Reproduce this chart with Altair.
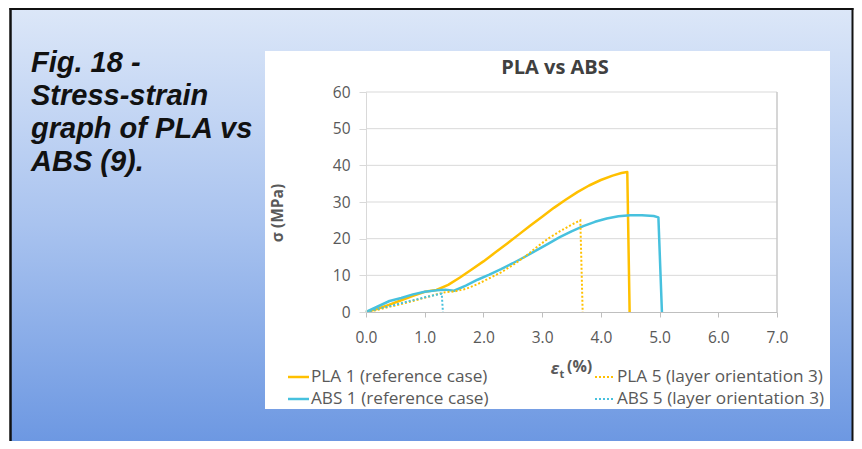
import altair as alt
import pandas as pd

# ---------------- data ----------------
series_names = ["PLA 1 (reference case)", "ABS 1 (reference case)",
                "PLA 5 (layer orientation 3)", "ABS 5 (layer orientation 3)"]
series_colors = ["#FFC000", "#47C1DE", "#FFC000", "#47C1DE"]

pla1_strain = [0, 0.2, 0.4, 0.6, 0.8, 1.0, 1.2, 1.4, 1.6, 1.8, 2.0, 2.2, 2.4, 2.6, 2.8,
               3.0, 3.2, 3.4, 3.6, 3.8, 4.0, 4.2, 4.35, 4.45, 4.49]
pla1_stress = [0, 0.9, 2.0, 3.2, 4.4, 5.5, 6.0, 7.4, 9.4, 11.6, 13.8, 16.2, 18.6, 21.1, 23.6,
               26.0, 28.4, 30.6, 32.7, 34.5, 36.0, 37.2, 37.9, 38.2, 0]

abs1_strain = [0, 0.2, 0.4, 0.6, 0.8, 1.0, 1.2, 1.35, 1.5, 1.7, 1.9, 2.1, 2.3, 2.5, 2.7,
               2.9, 3.1, 3.3, 3.5, 3.7, 3.9, 4.1, 4.3, 4.5, 4.7, 4.9, 4.98, 5.04]
abs1_stress = [0, 1.5, 3.0, 3.8, 4.8, 5.5, 5.9, 6.1, 5.8, 7.2, 8.8, 10.2, 11.7, 13.3, 15.0,
               16.8, 18.6, 20.4, 22.0, 23.4, 24.6, 25.5, 26.1, 26.4, 26.4, 26.2, 25.8, 0]

pla5_strain = [0, 0.2, 0.4, 0.6, 0.8, 1.0, 1.2, 1.35, 1.5, 1.7, 1.9, 2.1, 2.3, 2.5, 2.7,
               2.9, 3.1, 3.3, 3.5, 3.65, 3.69]
pla5_stress = [0, 0.6, 1.4, 2.2, 3.0, 3.9, 4.8, 5.4, 5.6, 6.3, 7.6, 9.2, 10.8, 12.8, 15.0,
               17.6, 20.0, 22.0, 23.8, 25.0, 0]

abs5_strain = [0, 0.2, 0.4, 0.6, 0.8, 1.0, 1.2, 1.29, 1.31]
abs5_stress = [0, 0.8, 1.6, 2.4, 3.2, 4.0, 4.7, 5.0, 0]

x_ticks = [0, 1, 2, 3, 4, 5, 6, 7]
y_ticks = [0, 10, 20, 30, 40, 50, 60]
grid_values = [10, 20, 30, 40, 50, 60]

chart_title = "PLA vs ABS"
y_title = "σ (MPa)"
caption_lines = ["Fig. 18 -", "Stress-strain", "graph of PLA vs", "ABS (9)."]

# ---------------- table ----------------
rows = []
for name, xs_, ys_ in zip(series_names,
                          [pla1_strain, abs1_strain, pla5_strain, abs5_strain],
                          [pla1_stress, abs1_stress, pla5_stress, abs5_stress]):
    for i, (a, b) in enumerate(zip(xs_, ys_)):
        rows.append({"series": name, "strain": a, "stress": b, "i": i})
df = pd.DataFrame(rows)
solid_df = df[df["series"].isin(series_names[:2])]
dotted_df = df[df["series"].isin(series_names[2:])]

W, H = 411, 220
LABEL_FONT = "Open Sans"
GREY = "#595959"

xscale = alt.Scale(domain=[0, 7], nice=False, zero=False)
yscale = alt.Scale(domain=[0, 60], nice=False)
xaxis = alt.Axis(values=x_ticks, format=".1f", title=None, grid=False,
                 domainColor="#BFBFBF", tickColor="#BFBFBF", tickSize=5,
                 labelFont=LABEL_FONT, labelFontSize=15.5, labelColor=GREY,
                 labelPadding=13, labelFlush=False, labelOverlap=False, zindex=1)
yaxis = alt.Axis(values=y_ticks, title=None, grid=False,
                 domainColor="#D9D9D9", tickColor="#D9D9D9", tickSize=7,
                 labelFont=LABEL_FONT, labelFontSize=15.5, labelColor=GREY,
                 labelPadding=9, labelFlush=False, labelOverlap=False, zindex=1)
X = alt.X("strain:Q", scale=xscale, axis=xaxis)
Y = alt.Y("stress:Q", scale=yscale, axis=yaxis)
COLOR = alt.Color("series:N", scale=alt.Scale(domain=series_names, range=series_colors), legend=None)

one = pd.DataFrame({"k": [0]})


def px(page_x):
    return page_x - 366


def py(page_y):
    return page_y - 92


layers = []

# background with gradient
grad = alt.LinearGradient(gradient="linear",
                          stops=[alt.GradientStop(offset=0, color="#DCE7F8"),
                                 alt.GradientStop(offset=0.5, color="#A9C3EF"),
                                 alt.GradientStop(offset=1, color="#6D98E2")],
                          x1=0, x2=0, y1=0, y2=1)
layers.append(alt.Chart(one).mark_rect(fill=grad).encode(
    x=alt.value(px(10)), x2=alt.value(px(853)), y=alt.value(py(8)), y2=alt.value(py(441))))

# frame borders (left, top, right)
layers.append(alt.Chart(one).mark_rule(color="#111111", strokeWidth=2.5).encode(
    x=alt.value(px(10.5)), y=alt.value(py(8)), y2=alt.value(py(441))))
layers.append(alt.Chart(one).mark_rule(color="#111111", strokeWidth=2).encode(
    x=alt.value(px(9.5)), x2=alt.value(px(853.5)), y=alt.value(py(9))))
layers.append(alt.Chart(one).mark_rule(color="#111111", strokeWidth=2).encode(
    x=alt.value(px(852.5)), y=alt.value(py(8)), y2=alt.value(py(441))))

# white chart box
layers.append(alt.Chart(one).mark_rect(fill="white").encode(
    x=alt.value(px(265)), x2=alt.value(px(830)), y=alt.value(py(51)), y2=alt.value(py(409))))

# gridlines
layers.append(alt.Chart(pd.DataFrame({"stress": grid_values})).mark_rule(
    color="#D9D9D9", strokeWidth=1).encode(y=Y))

# right plot border
layers.append(alt.Chart(one).mark_rule(color="#C8C8C8", strokeWidth=1.5).encode(
    x=alt.value(W), y=alt.value(0), y2=alt.value(H)))

# data lines
layers.append(alt.Chart(solid_df).mark_line(strokeWidth=2.5, strokeJoin="round").encode(
    x=X, y=Y, color=COLOR, detail="series:N", order="i:Q"))
layers.append(alt.Chart(dotted_df).mark_line(strokeWidth=2, strokeDash=[2, 2]).encode(
    x=X, y=Y, color=COLOR, detail="series:N", order="i:Q"))

# title
layers.append(alt.Chart(one).mark_text(text=chart_title, font=LABEL_FONT, fontSize=20,
                                       fontWeight="bold", color="#404040",
                                       align="center", baseline="middle").encode(
    x=alt.value(px(555)), y=alt.value(py(68))))

# y title
layers.append(alt.Chart(one).mark_text(text=y_title, font=LABEL_FONT, fontSize=15.5,
                                       fontWeight="bold", color=GREY, angle=270,
                                       align="center", baseline="middle").encode(
    x=alt.value(px(278)), y=alt.value(py(213))))

# x title: epsilon with subscript t
layers.append(alt.Chart(one).mark_text(text="ε", font=LABEL_FONT, fontSize=16.5,
                                       fontStyle="italic", fontWeight="bold", color=GREY,
                                       align="center", baseline="middle").encode(
    x=alt.value(px(555)), y=alt.value(py(369))))
layers.append(alt.Chart(one).mark_text(text="t", font=LABEL_FONT, fontSize=11,
                                       fontWeight="bold", color=GREY,
                                       align="center", baseline="middle").encode(
    x=alt.value(px(562)), y=alt.value(py(375))))
layers.append(alt.Chart(one).mark_text(text="(%)", font=LABEL_FONT, fontSize=16,
                                       fontWeight="bold", color=GREY,
                                       align="left", baseline="middle").encode(
    x=alt.value(px(567)), y=alt.value(py(367))))

# legend
leg_pos = [(288, 309, 311, 377), (288, 309, 311, 399), (595, 615, 617, 377), (595, 615, 617, 399)]
for k, (name, col) in enumerate(zip(series_names, series_colors)):
    x0, x1, tx, ty = leg_pos[k]
    if k < 2:
        mk = alt.Chart(one).mark_rule(color=col, strokeWidth=2.5)
    else:
        mk = alt.Chart(one).mark_rule(color=col, strokeWidth=2, strokeDash=[2, 2])
    layers.append(mk.encode(x=alt.value(px(x0)), x2=alt.value(px(x1)), y=alt.value(py(ty))))
    layers.append(alt.Chart(one).mark_text(text=name, font=LABEL_FONT, fontSize=17.2,
                                           color=GREY, align="left", baseline="middle").encode(
        x=alt.value(px(tx)), y=alt.value(py(ty))))

# caption on the left
cap_base = [72, 105, 138, 171]
for line, b in zip(caption_lines, cap_base):
    layers.append(alt.Chart(one).mark_text(text=line, font="Liberation Sans", fontSize=29,
                                           fontWeight="bold", fontStyle="italic",
                                           color="#111111", align="left",
                                           baseline="alphabetic").encode(
        x=alt.value(px(31)), y=alt.value(py(b))))

chart = alt.layer(*layers).properties(
    width=W, height=H,
    autosize=alt.AutoSizeParams(type="none"),
    padding={"left": 358, "top": 84, "right": 77, "bottom": 129},
    background="white",
).configure_view(stroke=None)

chart.save("out.html", embed_options={"renderer": "svg", "actions": False})
